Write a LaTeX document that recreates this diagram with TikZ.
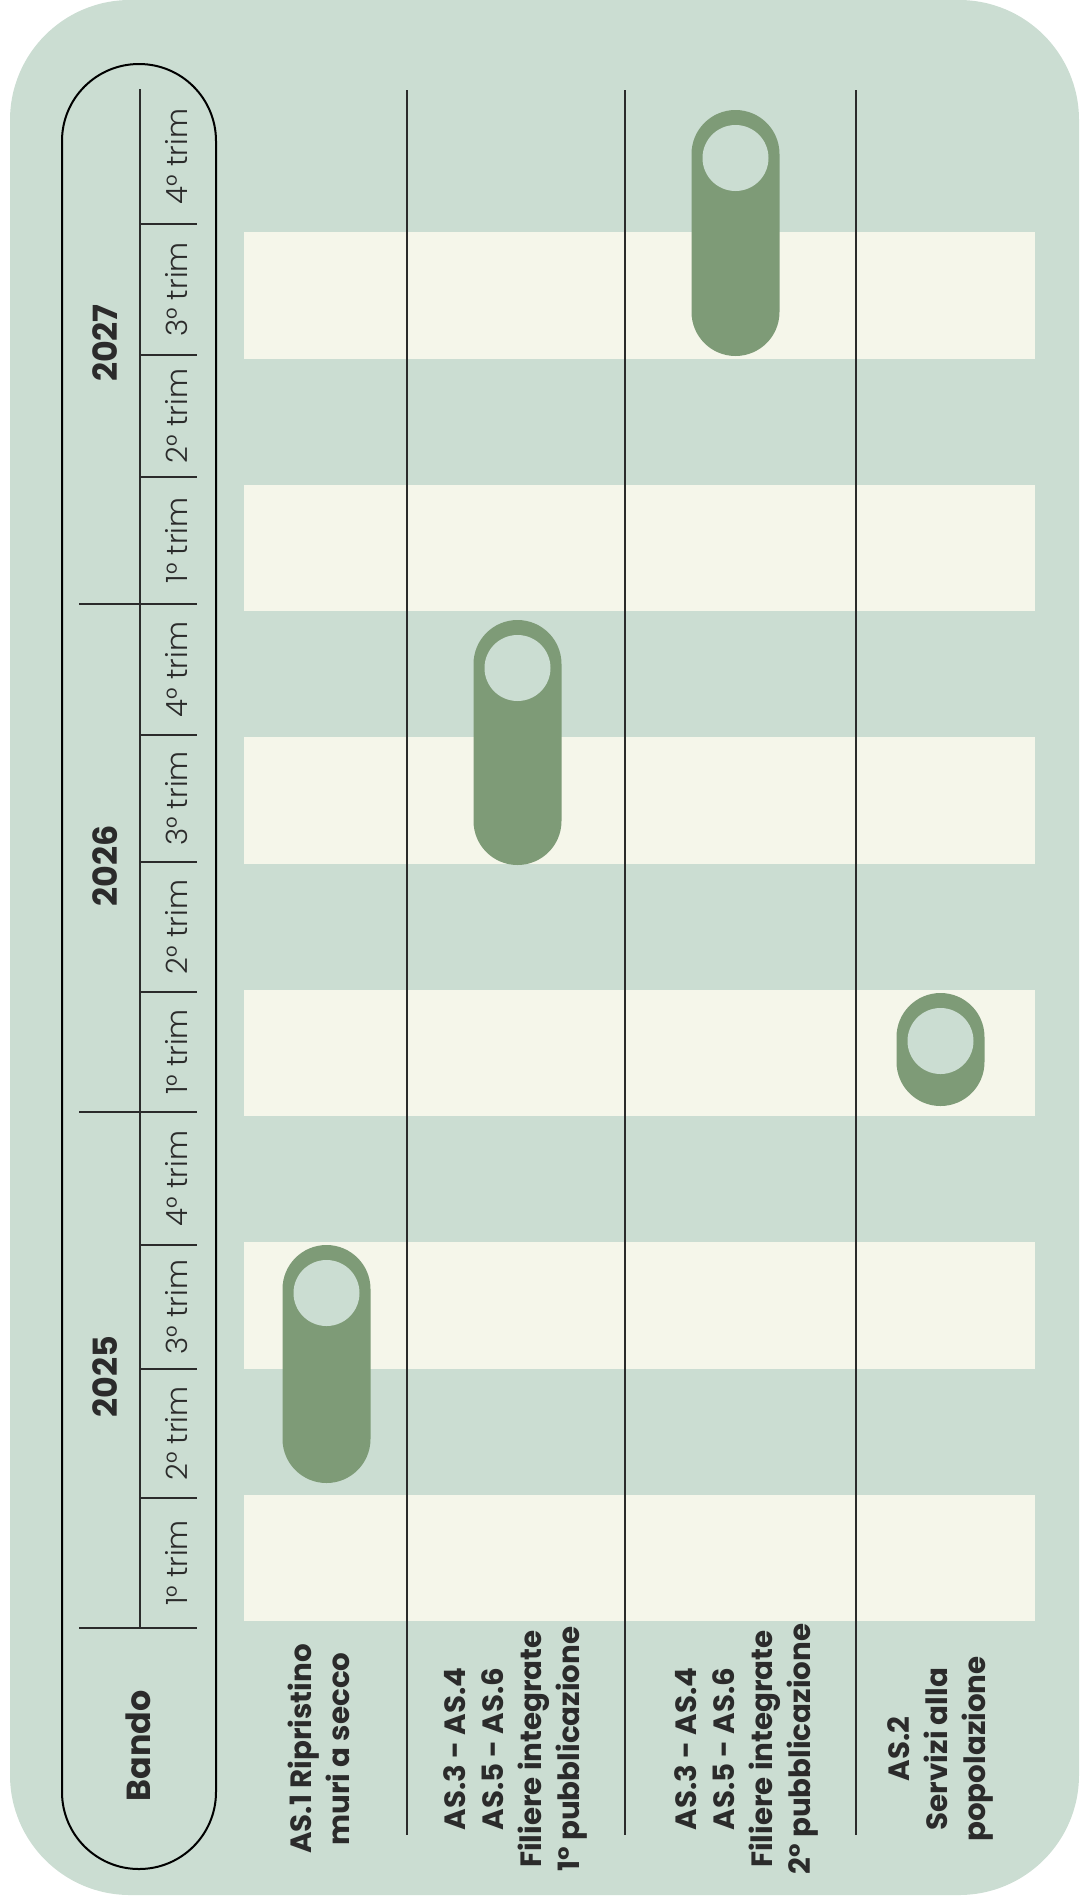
\documentclass[tikz,border=0pt]{standalone}
\usepackage{fontspec}
\setmainfont{Poppins}
\newfontfamily\lightfont{Poppins Light}
\usetikzlibrary{positioning}
\definecolor{sage}{HTML}{CBDDD2}
\definecolor{cream}{HTML}{F5F6EA}
\definecolor{moss}{HTML}{7E9B77}
\definecolor{ink}{HTML}{2B2B2B}
\tikzset{
  band/.style={fill=cream},
  rule/.style={draw=ink, line width=1.4pt},
  frame/.style={draw=black, line width=1.5pt, rounded corners=57.7pt},
  bar/.style={fill=moss, rounded corners=33pt},
  hole/.style={fill=sage},
  yearlbl/.style={font=\bfseries\fontsize{25}{30}\selectfont, text=ink, rotate=90, inner sep=0pt},
  qlbl/.style={font=\lightfont\fontsize{22}{26}\selectfont, text=ink, rotate=90, inner sep=0pt},
  rowlbl/.style={font=\bfseries\fontsize{22}{28.5}\selectfont, text=ink, rotate=90, align=center, inner sep=0pt}
}

\begin{document}
\begin{tikzpicture}[x=0.75pt, y=-0.75pt]
\useasboundingbox (0,0) rectangle (1079,1903);
\fill[sage, rounded corners=90pt] (10,0) rectangle (1079,1895);
% quarter bands
\foreach \i in {0,2,...,10}
  \fill[band] (244,{1621-(\i+1)*126.25}) rectangle (1035,{1621-\i*126.25});
% row separators
\foreach \x in {407,625,856} \draw[rule] (\x,90) -- (\x,1835);
% header
\draw[frame] (62,64) rectangle (216,1869);
\draw[rule] (140,89) -- (140,1628);
\foreach \y in {604,1112,1628} \draw[rule] (79,\y) -- (197,\y);
\foreach \y in {224,355,477,735,862,992,1245,1369,1498} \draw[rule] (140,\y) -- (197,\y);
\node[yearlbl] (y2027) at (105.5,343) {2027};
\node[yearlbl] (y2026) at (105.5,866) {2026};
\node[yearlbl] (y2025) at (105.5,1377) {2025};
\foreach \a/\b/\q in {89/224/4,224/355/3,355/477/2,477/604/1,604/735/4,735/862/3,862/992/2,992/1112/1,1112/1245/4,1245/1369/3,1369/1498/2,1498/1628/1}
  \node[qlbl] (q\a) at (176.5,{(\a+\b)/2}) {\q° trim};
\node[yearlbl] (bando) at (138,1746) {Bando};
% bars
\foreach \cx/\top/\bot in {326.5/1245/1483,517.5/620/865,735.5/110/356,940.5/993/1106}{
  \fill[bar] (\cx-44,\top) rectangle (\cx+44,\bot);
  \fill[hole] (\cx,\top+48) circle[radius=24.75pt];
}
% row labels
\node[rowlbl] (as1) at (319,1749) {AS.1 Ripristino\\muri a secco};
\node[rowlbl] (fil1) at (515,1749) {AS.3 - AS.4\\AS.5 - AS.6\\Filiere integrate\\1° pubblicazione};
\node[rowlbl] (fil2) at (746,1749) {AS.3 - AS.4\\AS.5 - AS.6\\Filiere integrate\\2° pubblicazione};
\node[rowlbl] (as2) at (940,1749) {AS.2\\Servizi alla\\popolazione};
\end{tikzpicture}
\end{document}
